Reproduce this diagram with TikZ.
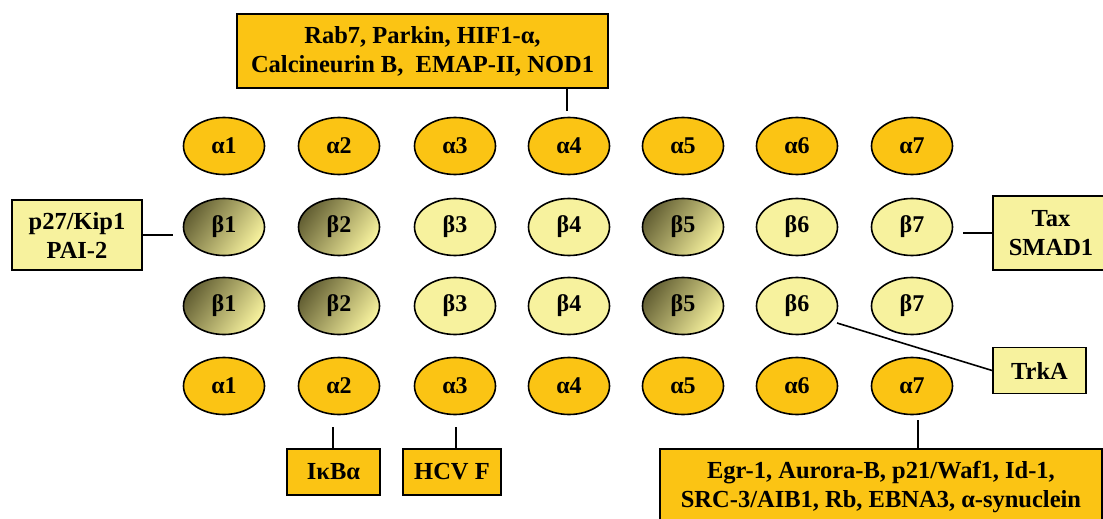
\documentclass[tikz,border=0pt]{standalone}
\usepackage{fontspec}
\setmainfont{Liberation Serif}
\usetikzlibrary{shapes.geometric}
\definecolor{gold}{RGB}{251,196,20}
\definecolor{paley}{RGB}{247,242,158}
\definecolor{olive}{RGB}{100,96,52}
\tikzset{
  cell/.style={ellipse,draw=black,line width=1.6pt,minimum width=81pt,minimum height=57pt,inner sep=0pt,font=\bfseries\fontsize{24}{26}\selectfont},
  acell/.style={cell,fill=gold},
  bcell/.style={cell,fill=paley},
  dcell/.style={cell,shading=axis,top color=olive,bottom color=paley,shading angle=55},
  gbox/.style={draw=black,line width=1.8pt,fill=gold,inner sep=0pt,align=center,font=\bfseries\fontsize{24.5}{29}\selectfont},
  ybox/.style={gbox,fill=paley},
  link/.style={line width=1.6pt}
}
\begin{document}
\begin{tikzpicture}[x=1pt,y=-1pt]
\fill[white] (0,0) rectangle (1103,519);
\clip (0,0) rectangle (1103,519);
% rows
\foreach \i/\x in {1/224,2/339,3/455,4/569,5/683,6/797,7/912}{
  \node[acell] (at\i) at (\x,146) {α\i};
  \node[acell] (ab\i) at (\x,386) {α\i};
}
\foreach \i/\x/\s in {1/224/dcell,2/339/dcell,3/455/bcell,4/569/bcell,5/683/dcell,6/797/bcell,7/912/bcell}{
  \node[\s] (bt\i) at (\x,227) {β\i};
  \node[\s] (bb\i) at (\x,306) {β\i};
}
% boxes
\node[gbox,minimum width=371pt,minimum height=74pt] (top) at (422.5,51) {Rab7, Parkin, HIF1-α,\\Calcineurin B,\ \ EMAP-II, NOD1};
\node[ybox,minimum width=130pt,minimum height=70pt] (left) at (77,235) {p27/Kip1\\PAI-2};
\node[ybox,minimum width=116pt,minimum height=74pt] (tax) at (1051,233) {Tax\\SMAD1};
\node[ybox,minimum width=93pt,minimum height=46pt] (trka) at (1039.5,370.5) {TrkA};
\node[gbox,minimum width=93pt,minimum height=46pt] (ikb) at (333.5,472) {IκBα};
\node[gbox,minimum width=98pt,minimum height=46pt] (hcv) at (452,472) {HCV F};
\node[gbox,minimum width=442pt,minimum height=76pt] (egr) at (881,487) {Egr-1, Aurora-B, p21/Waf1, Id-1,\\SRC-3/AIB1, Rb, EBNA3, α-synuclein};
% connectors
\coordinate (topend) at (567,111);
\draw[link] (top.south -| topend) -- (topend);
\draw[link,shorten >=10pt] (left.east) -- (left.east -| bt1.west);
\draw[link,shorten <=10pt] (tax.west -| bt7.east) -- (tax.west);
\path (bb6) ++(40,17) coordinate (trkstart);
\draw[link] (trkstart) -- (trka.west);
\coordinate (ikbend) at (333,427);
\draw[link] (ikb.north -| ikbend) -- (ikbend);
\coordinate (hcvend) at (456,427);
\draw[link] (hcv.north -| hcvend) -- (hcvend);
\coordinate (egrend) at (918,420);
\draw[link] (egr.north -| egrend) -- (egrend);
\end{tikzpicture}
\end{document}
